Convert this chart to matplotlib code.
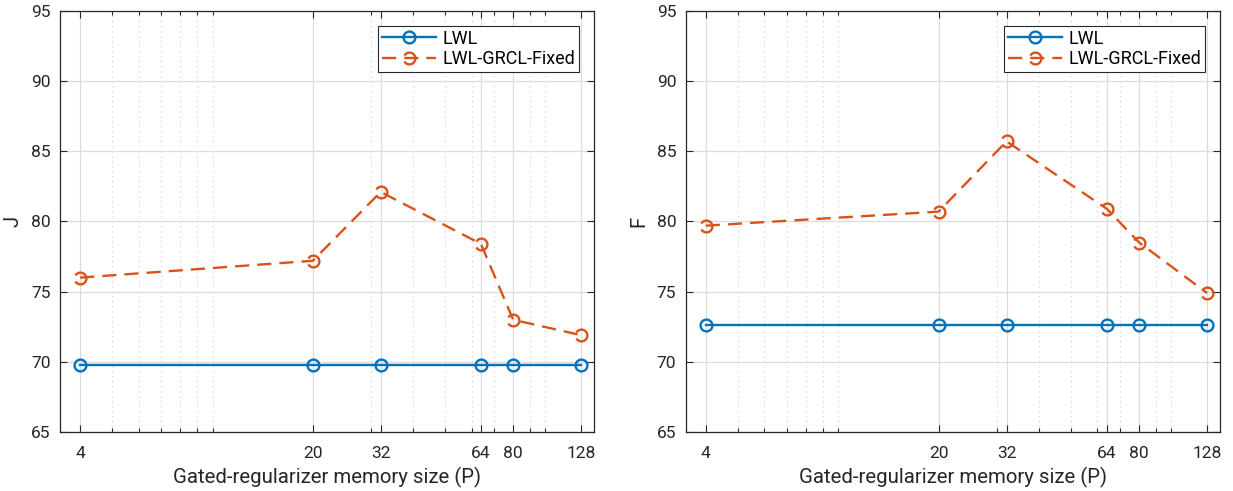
import matplotlib
matplotlib.use("Agg")
import matplotlib.pyplot as plt
import numpy as np
from matplotlib.path import Path
from matplotlib.ticker import FixedLocator, NullFormatter

plt.rcParams['font.family'] = ['Roboto', 'DejaVu Sans']

memory_sizes = [4, 20, 32, 64, 80, 128]
j_lwl = [69.8, 69.8, 69.8, 69.8, 69.8, 69.8]
j_grcl = [76.0, 77.2, 82.1, 78.4, 73.0, 71.9]
f_lwl = [72.6, 72.6, 72.6, 72.6, 72.6, 72.6]
f_grcl = [79.7, 80.7, 85.7, 80.9, 78.5, 74.9]
x_ticks = [4, 20, 32, 64, 80, 128]
minor_ticks = [5, 6, 7, 8, 9, 10, 30, 40, 50, 60, 70, 90, 100]
y_ticks = [65, 70, 75, 80, 85, 90, 95]

BLUE = '#0072BD'
ORANGE = '#D95319'
TXT = '#262626'

# open circle with a small gap (dashed-circle look)
arc = Path.arc(-150, 150)
dash_marker = Path(arc.vertices, arc.codes)

fig = plt.figure(figsize=(12.33, 4.91), dpi=100)
ax1 = fig.add_axes([0.049, 0.120, 0.4328, 0.858])
ax2 = fig.add_axes([0.5564, 0.120, 0.4331, 0.858])

for ax, lwl, grcl, ylab in [(ax1, j_lwl, j_grcl, 'J'), (ax2, f_lwl, f_grcl, 'F')]:
    ax.set_xscale('log')
    ax.set_xlim(3.49, 140)
    ax.set_ylim(65, 95)
    ax.plot(memory_sizes, lwl, '-', color=BLUE, lw=1.7, marker='o', ms=8.5,
            mfc='none', mew=1.7, label='LWL', zorder=3)
    ax.plot(memory_sizes, grcl, '--', color=ORANGE, lw=1.7, marker=dash_marker, ms=8.5,
            mfc='none', mew=1.7, dashes=(6.0, 3.4), label='LWL-GRCL-Fixed', zorder=3)
    ax.xaxis.set_major_locator(FixedLocator(x_ticks))
    ax.xaxis.set_minor_locator(FixedLocator(minor_ticks))
    ax.xaxis.set_minor_formatter(NullFormatter())
    ax.set_xticklabels([str(t) for t in x_ticks])
    ax.set_yticks(y_ticks)
    ax.grid(True, which='major', color='#dcdcdc', lw=0.9, ls='-', zorder=0)
    ax.grid(True, which='minor', axis='x', color='#cccccc', lw=0.8, ls=(0, (1, 3.5)), zorder=0)
    ax.set_axisbelow(True)
    ax.tick_params(which='both', direction='in', top=True, right=True, colors=TXT,
                   labelsize=12.5, width=0.8)
    ax.tick_params(which='major', length=5)
    ax.tick_params(which='minor', length=3)
    ax.tick_params(axis='x', pad=10)
    ax.tick_params(axis='y', pad=7)
    for s in ax.spines.values():
        s.set_color(TXT)
        s.set_linewidth(0.9)
    ax.set_xlabel('Gated-regularizer memory size (P)', fontsize=14.7, color=TXT, labelpad=4)
    ax.set_ylabel(ylab, fontsize=14.7, color=TXT, labelpad=6)
    leg = ax.legend(loc='upper right', fontsize=13, handlelength=3.0, fancybox=False,
                    framealpha=1, edgecolor=TXT, borderaxespad=0.85, borderpad=0.2,
                    labelspacing=0.15, handletextpad=0.35)
    leg.get_frame().set_linewidth(0.8)

fig.savefig('out.png', dpi=100)
